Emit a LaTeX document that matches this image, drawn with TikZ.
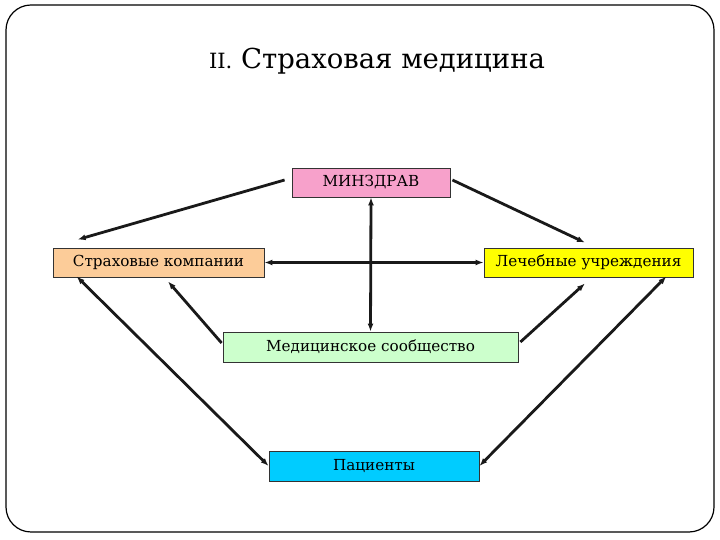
\documentclass[tikz,border=0pt]{standalone}
\usepackage{fontspec}
\setmainfont{DejaVu Serif}
\usetikzlibrary{positioning,calc,arrows.meta}

\definecolor{minzpink}{RGB}{247,161,203}
\definecolor{inspeach}{RGB}{252,204,153}
\definecolor{hospyellow}{RGB}{255,255,0}
\definecolor{commgreen}{RGB}{204,255,204}
\definecolor{patcyan}{RGB}{0,204,255}

\begin{document}
\begin{tikzpicture}[
    x=1pt, y=1pt,
    >={Latex[length=8pt,width=6pt]},
    every node/.style={font=\fontsize{15.2}{18}\selectfont},
    box/.style={draw=black!80, line width=0.8pt, inner sep=0pt, minimum height=29pt},
    link/.style={line width=2.8pt, black!90}
  ]

    %------------------ Frame and title ------------------%
    \useasboundingbox (0,0) rectangle (720,540);
    \draw[line width=1.2pt, rounded corners=25pt] (6,8) rectangle (714,535);
    \node[font=\fontsize{27.5}{32}\selectfont] (title) at (377,479)
      {{\fontsize{21}{26}\selectfont II.} Страховая медицина};

    %------------------ Boxes ------------------%
    \node[box, fill=minzpink, minimum width=158pt] (minz) at (371,357.5) {МИНЗДРАВ};
    \node[box, fill=inspeach, minimum width=211pt] (ins) at (158.5,277.5) {Страховые компании};
    \node[box, fill=hospyellow, minimum width=209pt] (hosp) at (588.5,277.5) {Лечебные учреждения};
    \node[box, fill=commgreen, minimum width=295pt, minimum height=30pt] (comm) at (370.5,193) {Медицинское сообщество};
    \node[box, fill=patcyan, minimum width=210pt, minimum height=30pt] (pat) at (374,74) {Пациенты};

    %------------------ Connectors ------------------%
    % from the ministry
    \draw[link,->] ([xshift=-7pt,yshift=2.5pt]minz.west) -- ([xshift=25pt,yshift=8pt]ins.north west);
    \draw[link,->] ([xshift=2pt,yshift=2.5pt]minz.east) -- ([xshift=-3.5pt,yshift=5pt]hosp.north);
    \draw[link,<->] (minz.south) -- (comm.north);
    \draw[link,<->] (ins.east) -- (hosp.west);

    % from the medical community
    \draw[link,->] ([xshift=-1pt,yshift=4pt]comm.west) -- ([xshift=9.5pt,yshift=-4pt]ins.south);
    \draw[link,->] ([xshift=2pt,yshift=5pt]comm.east) -- ([xshift=-3.5pt,yshift=-6pt]hosp.south);

    % patients
    \draw[link,<->] ([xshift=24pt,yshift=1pt]ins.south west) -- (pat.west);
    \draw[link,<->] ([xshift=-27pt,yshift=1pt]hosp.south east) -- (pat.east);

  \end{tikzpicture}
\end{document}
